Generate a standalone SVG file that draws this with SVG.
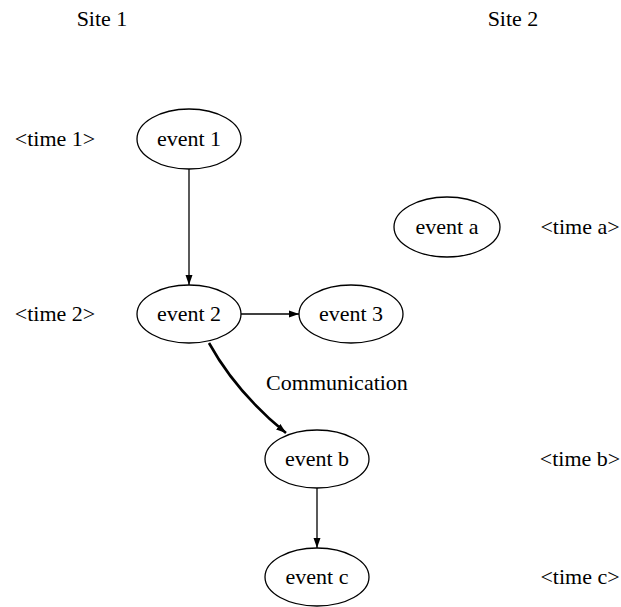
<svg xmlns="http://www.w3.org/2000/svg" width="621" height="607" viewBox="0 0 621 607">
<style>
text{font-family:"Liberation Serif","Times New Roman",serif;font-size:22px;fill:#000}
.c{text-anchor:middle}
ellipse{fill:#fff;stroke:#000;stroke-width:1.3}
.e{fill:none;stroke:#000;stroke-width:1.3}
.thick{fill:none;stroke:#000;stroke-width:2.6}
</style>
<defs>
<marker id="ah" markerWidth="10" markerHeight="8" refX="10" refY="4" orient="auto" markerUnits="userSpaceOnUse">
<path d="M0,0.5 L10,4 L0,7.5 Z" fill="#000"/>
</marker>
</defs>
<rect width="621" height="607" fill="#fff"/>
<g id="labels">
<text class="c" x="102" y="26">Site 1</text>
<text class="c" x="513" y="26">Site 2</text>
<text class="c" x="55" y="146">&lt;time 1&gt;</text>
<text class="c" x="55" y="321">&lt;time 2&gt;</text>
<text class="c" x="580" y="234">&lt;time a&gt;</text>
<text class="c" x="580" y="466">&lt;time b&gt;</text>
<text class="c" x="580" y="584">&lt;time c&gt;</text>
</g>
<g id="connectors">
<line class="e" x1="189" y1="169" x2="189" y2="285" marker-end="url(#ah)"/>
<line class="e" x1="241" y1="314" x2="299" y2="314" marker-end="url(#ah)"/>
<path class="thick" d="M209,343 C225,372 248,402 286,433" marker-end="url(#ah)"/>
<line class="e" x1="317" y1="488" x2="317" y2="548" marker-end="url(#ah)"/>
<text class="c" x="337" y="390">Communication</text>
</g>
<g id="event1"><ellipse cx="189" cy="139" rx="52" ry="30"/><text class="c" x="189" y="146">event 1</text></g>
<g id="event2"><ellipse cx="189" cy="314" rx="52" ry="29"/><text class="c" x="189" y="321">event 2</text></g>
<g id="event3"><ellipse cx="351" cy="314" rx="52" ry="29"/><text class="c" x="351" y="321">event 3</text></g>
<g id="eventa"><ellipse cx="447" cy="227" rx="53" ry="30"/><text class="c" x="447" y="234">event a</text></g>
<g id="eventb"><ellipse cx="317" cy="459" rx="52" ry="29"/><text class="c" x="317" y="466">event b</text></g>
<g id="eventc"><ellipse cx="317" cy="577" rx="52" ry="29"/><text class="c" x="317" y="584">event c</text></g>
</svg>
